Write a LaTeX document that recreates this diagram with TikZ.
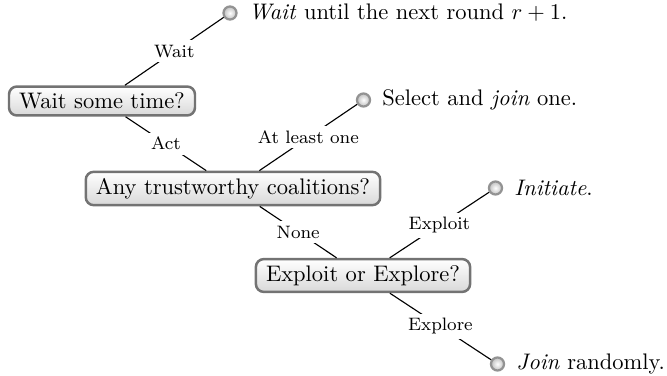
\documentclass[tikz,border=0pt]{standalone}
\usetikzlibrary{shadings}
\begin{document}
\begin{tikzpicture}[x=0.4444pt,y=-0.4444pt,
  decision/.style={draw=gray!90!black, line width=1.1pt, rounded corners=3.5pt,
    top color=white, bottom color=gray!30, inner xsep=4.5pt, inner ysep=2.8pt,
    font=\normalsize},
  leaf/.style={circle, draw=gray!85, line width=1pt, inner sep=0pt,
    minimum size=5.8pt, inner color=white, outer color=gray!50},
  leaftext/.style={label distance=1.5pt},
  elabel/.style={fill=white, font=\footnotesize, inner sep=2pt},
  edge/.style={draw=black, line width=0.5pt}]
\useasboundingbox (0,0) rectangle (667,376);
\node[decision] (n1) at (102,101) {Wait some time?};
\node[decision] (n2) at (233,188.5) {Any trustworthy coalitions?};
\node[decision] (n3) at (363,275.5) {Exploit or Explore?};
\node[leaf, label={[leaftext]right:\emph{Wait} until the next round $r+1$.}] (l1) at (230,13) {};
\node[leaf, label={[leaftext]right:Select and \emph{join} one.}] (l2) at (363.5,100) {};
\node[leaf, label={[leaftext]right:\emph{Initiate}.}] (l3) at (495.5,188) {};
\node[leaf, label={[leaftext]right:\emph{Join} randomly.}] (l4) at (497.5,364) {};
\draw[edge] (n1) -- node[elabel] {Wait} (l1);
\draw[edge] (n1) -- node[elabel] {Act} (n2);
\draw[edge] (n2) -- node[elabel] {At least one} (l2);
\draw[edge] (n2) -- node[elabel] {None} (n3);
\draw[edge] (n3) -- node[elabel] {Exploit} (l3);
\draw[edge] (n3) -- node[elabel] {Explore} (l4);
\end{tikzpicture}
\end{document}
